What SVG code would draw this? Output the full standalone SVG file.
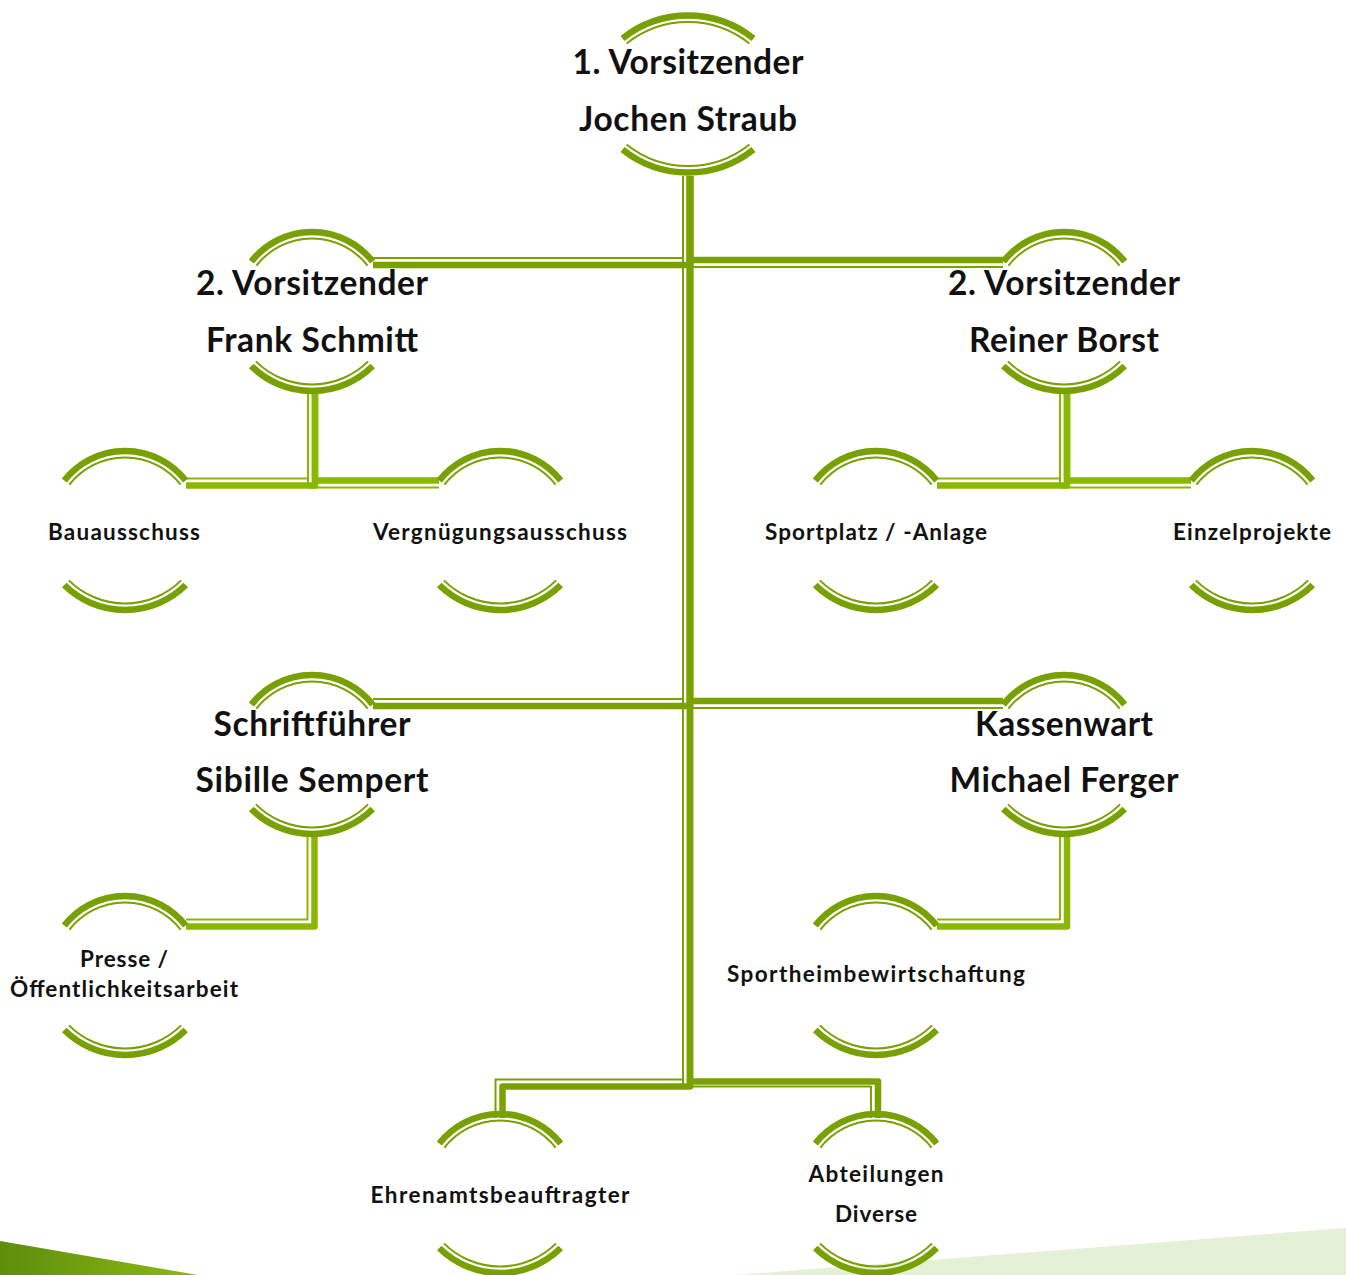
<svg xmlns="http://www.w3.org/2000/svg" xmlns:xlink="http://www.w3.org/1999/xlink" width="1346" height="1275" viewBox="0 0 1346 1275">
<style>
.arcK{fill:none;stroke:#77A000;stroke-width:6.5}
.arcT{fill:none;stroke:#77A000;stroke-width:2}
.c1K{fill:none;stroke:#79A200;stroke-width:6.5;stroke-linejoin:round}
.c1T{fill:none;stroke:#79A200;stroke-width:2;stroke-linejoin:round}
.c2K{fill:none;stroke:#8AB800;stroke-width:6.5;stroke-linejoin:round}
.c2T{fill:none;stroke:#8AB800;stroke-width:2;stroke-linejoin:round}
.big{font-family:Lato,"Open Sans",sans-serif;font-weight:700;font-size:33.5px;fill:#111;text-anchor:middle}
.sm{font-family:Lato,"Open Sans",sans-serif;font-weight:700;font-size:22.5px;fill:#111;text-anchor:middle}
</style>
<defs>
<linearGradient id="gDark" x1="0" y1="0" x2="1" y2="0">
<stop offset="0" stop-color="#5E8E0C"/>
<stop offset="1" stop-color="#8CBA14"/>
</linearGradient>
<g id="ring">
<path class="arcK" d="M -60.7 -47.4 A 77 77 0 0 1 60.7 -47.4"/>
<path class="arcT" d="M -55.6 -43.4 A 70.5 70.5 0 0 1 55.6 -43.4"/>
<path class="arcK" d="M -60.7 57 A 86.2 86.2 0 0 0 60.7 57"/>
<path class="arcT" d="M -56.1 52.4 A 79.7 79.7 0 0 0 56.1 52.4"/>
</g>
</defs>
<rect width="1346" height="1275" fill="#FFFFFF"/>
<polygon points="0,1241 198,1275 0,1275" fill="url(#gDark)"/>
<polygon points="735,1275 1346,1228 1346,1275" fill="#E5F1D6"/>

<g id="connectors">
<path class="c1K" d="M 690 176 V 265 H 373"/>
<path class="c1T" d="M 683 176 V 258 H 373"/>
<path class="c1K" d="M 690 176 V 260 H 1003"/>
<path class="c1T" d="M 683 176 V 267 H 1003"/>
<path class="c1K" d="M 690 176 V 706 H 373"/>
<path class="c1T" d="M 683 176 V 699 H 373"/>
<path class="c1K" d="M 690 176 V 701 H 1003"/>
<path class="c1T" d="M 683 176 V 708 H 1003"/>
<path class="c1K" d="M 690 176 V 1086.5 H 502.5 V 1118"/>
<path class="c1T" d="M 683 176 V 1079.5 H 495.5 V 1118"/>
<path class="c1K" d="M 690 176 V 1081.5 H 878 V 1118"/>
<path class="c1T" d="M 683 176 V 1086.5 H 871 V 1118"/>
<path class="c2K" d="M 315 393 V 485.5 H 186"/>
<path class="c2T" d="M 308 393 V 478.5 H 186"/>
<path class="c2K" d="M 315 393 V 480.5 H 439"/>
<path class="c2T" d="M 308 393 V 487.5 H 439"/>
<path class="c2K" d="M 1067 393 V 485.5 H 937"/>
<path class="c2T" d="M 1060 393 V 478.5 H 937"/>
<path class="c2K" d="M 1067 393 V 480.5 H 1191"/>
<path class="c2T" d="M 1060 393 V 487.5 H 1191"/>
<path class="c2K" d="M 314.5 836 V 926.5 H 186"/>
<path class="c2T" d="M 307.5 836 V 919.5 H 186"/>
<path class="c2K" d="M 1067 836 V 926.5 H 937"/>
<path class="c2T" d="M 1060 836 V 919.5 H 937"/>
</g>

<g id="node-vorsitzender1">
<path class="arcK" d="M 622.5 38.5 A 104.8 104.8 0 0 1 753.5 38.5"/>
<path class="arcT" d="M 626.6 43.5 A 98.3 98.3 0 0 1 749.4 43.5"/>
<path class="arcK" d="M 622.5 149.5 A 104.8 104.8 0 0 0 753.5 149.5"/>
<path class="arcT" d="M 626.6 144.5 A 98.3 98.3 0 0 0 749.4 144.5"/>
<text class="big" x="688" y="74" textLength="231">1. Vorsitzender</text>
<text class="big" x="688" y="131" textLength="218">Jochen Straub</text>
</g>

<g id="node-schmitt">
<use xlink:href="#ring" href="#ring" transform="translate(312,309)"/>
<text class="big" x="312" y="295" textLength="232">2. Vorsitzender</text>
<text class="big" x="312" y="352" textLength="212">Frank Schmitt</text>
</g>

<g id="node-borst">
<use xlink:href="#ring" href="#ring" transform="translate(1064,309)"/>
<text class="big" x="1064" y="295" textLength="232">2. Vorsitzender</text>
<text class="big" x="1064" y="352" textLength="190">Reiner Borst</text>
</g>

<g id="node-bauausschuss">
<use xlink:href="#ring" href="#ring" transform="translate(125,528)"/>
<text class="sm" x="124" y="540" textLength="152">Bauausschuss</text>
</g>

<g id="node-vergnuegung">
<use xlink:href="#ring" href="#ring" transform="translate(500,528)"/>
<text class="sm" x="500" y="540" textLength="254">Vergnügungsausschuss</text>
</g>

<g id="node-sportplatz">
<use xlink:href="#ring" href="#ring" transform="translate(876,528)"/>
<text class="sm" x="876" y="540" textLength="222">Sportplatz / -Anlage</text>
</g>

<g id="node-einzelprojekte">
<use xlink:href="#ring" href="#ring" transform="translate(1252,528)"/>
<text class="sm" x="1252" y="540" textLength="158">Einzelprojekte</text>
</g>

<g id="node-schriftfuehrer">
<use xlink:href="#ring" href="#ring" transform="translate(312,752)"/>
<text class="big" x="312" y="736" textLength="197">Schriftführer</text>
<text class="big" x="312" y="792" textLength="233">Sibille Sempert</text>
</g>

<g id="node-kassenwart">
<use xlink:href="#ring" href="#ring" transform="translate(1064,752)"/>
<text class="big" x="1064" y="736" textLength="178">Kassenwart</text>
<text class="big" x="1064" y="792" textLength="229">Michael Ferger</text>
</g>

<g id="node-presse">
<use xlink:href="#ring" href="#ring" transform="translate(125,973)"/>
<text class="sm" x="124" y="967" textLength="88">Presse /</text>
<text class="sm" x="124" y="997" textLength="228">Öffentlichkeitsarbeit</text>
</g>

<g id="node-sportheim">
<use xlink:href="#ring" href="#ring" transform="translate(876,973)"/>
<text class="sm" x="876" y="982" textLength="298">Sportheimbewirtschaftung</text>
</g>

<g id="node-ehrenamt">
<use xlink:href="#ring" href="#ring" transform="translate(500,1191)"/>
<text class="sm" x="500" y="1203" textLength="259">Ehrenamtsbeauftragter</text>
</g>

<g id="node-abteilungen">
<use xlink:href="#ring" href="#ring" transform="translate(876,1191)"/>
<text class="sm" x="876" y="1182" textLength="135">Abteilungen</text>
<text class="sm" x="876" y="1222" textLength="82">Diverse</text>
</g>
</svg>
